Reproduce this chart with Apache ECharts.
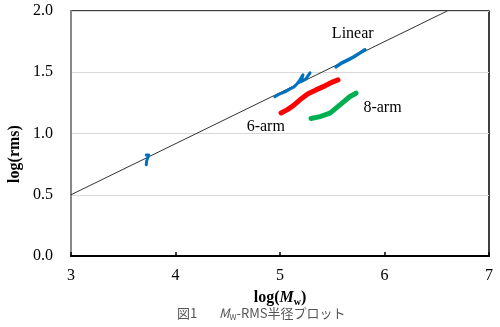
<!DOCTYPE html>
<html>
<head>
<meta charset="utf-8">
<script src="https://cdn.jsdelivr.net/npm/echarts@6/dist/echarts.min.js"></script>
<style>html,body{margin:0;padding:0;background:#fff}#c{width:500px;height:327px}</style>
</head>
<body>
<div id="c"></div>
<script>
// Data (x = log(Mw), y = log(rms))
var xTicks = [3, 4, 5, 6, 7];
var yTicks = [0.0, 0.5, 1.0, 1.5, 2.0];
var refLine = [[3.0, 0.5], [6.6, 2.0]];
var linearA = [[3.72, 0.825], [3.745, 0.825], [3.73, 0.81], [3.725, 0.78], [3.72, 0.745]];
var linearB = [[4.95, 1.30], [5.00, 1.324], [5.048, 1.34], [5.096, 1.364], [5.134, 1.381], [5.163, 1.405], [5.191, 1.438], [5.22, 1.479], [5.201, 1.422], [5.249, 1.446], [5.287, 1.495]];
var linearC = [[5.536, 1.544], [5.593, 1.577], [5.651, 1.601], [5.708, 1.626], [5.766, 1.658], [5.813, 1.683]];
var arm6 = [[5.010, 1.168], [5.067, 1.193], [5.124, 1.225], [5.191, 1.275], [5.268, 1.324], [5.344, 1.356], [5.431, 1.389], [5.507, 1.422], [5.555, 1.438]];
var arm8 = [[5.297, 1.122], [5.383, 1.138], [5.478, 1.166], [5.574, 1.234], [5.670, 1.302], [5.727, 1.329]];
var seriesLabels = [['Linear', 5.696, 1.811], ['6-arm', 4.864, 1.056], ['8-arm', 5.981, 1.207]];

var chart = echarts.init(document.getElementById('c'), null, {renderer: 'canvas'});
var serif = '"Liberation Serif","Times New Roman",serif';
var cjk = '"Noto Sans CJK JP", sans-serif';
function lineSeries(data, color, width, z) {
  return {type: 'line', data: data, showSymbol: false, symbol: 'none', z: z,
    lineStyle: {color: color, width: width, cap: 'round', join: 'round'}, silent: true, animation: false};
}
var option = {
  animation: false,
  grid: {left: 71, right: 11, top: 11, bottom: 71, show: true, borderColor: '#000', borderWidth: 1.5},
  xAxis: {
    type: 'value', min: 3, max: 7, interval: 1,
    axisLine: {show: true, lineStyle: {color: '#000', width: 2}},
    axisTick: {show: true, inside: true, length: 4, lineStyle: {color: '#000', width: 1.5}},
    splitLine: {show: false},
    axisLabel: {color: '#000', fontFamily: serif, fontSize: 16, margin: 12,
      formatter: function (v) { return xTicks.indexOf(v) >= 0 ? String(v) : ''; }},
    name: '{b|log(}{i|M}{s|w}{b|)}', nameLocation: 'middle', nameGap: 33,
    nameTextStyle: {rich: {
      b: {fontFamily: serif, fontWeight: 'bold', fontSize: 16, color: '#000'},
      i: {fontFamily: serif, fontWeight: 'bold', fontStyle: 'italic', fontSize: 16, color: '#000'},
      s: {fontFamily: serif, fontWeight: 'bold', fontSize: 10, color: '#000', verticalAlign: 'bottom', padding: [8, 0, 0, 0]}
    }}
  },
  yAxis: {
    type: 'value', min: 0, max: 2, interval: 0.5,
    axisLine: {show: true, lineStyle: {color: '#888', width: 2}},
    axisTick: {show: false},
    splitLine: {show: true, lineStyle: {color: '#d9d9d9', width: 1}},
    axisLabel: {color: '#000', fontFamily: serif, fontSize: 16, margin: 18,
      formatter: function (v) { return yTicks.indexOf(v) >= 0 ? v.toFixed(1) : ''; }}
  },
  series: [
    lineSeries(refLine, '#333', 1, 1),
    lineSeries(linearA, '#0070C0', 3, 3),
    lineSeries(linearB, '#0070C0', 3, 3),
    lineSeries(linearC, '#0070C0', 3.5, 3),
    lineSeries(arm6, '#FF0000', 5, 3),
    lineSeries(arm8, '#00B050', 5, 3)
  ]
};
chart.setOption(option);
var g = [
  {type: 'text', x: 15, y: 154, rotation: Math.PI / 2,
    style: {text: 'log(rms)', font: 'bold 16px ' + serif, fill: '#000', align: 'center', verticalAlign: 'middle'}},
  {type: 'text', left: 177, top: 307,
    style: {rich: {
      n: {fontFamily: cjk, fontSize: 13, fill: '#555'},
      i: {fontFamily: cjk, fontStyle: 'italic', fontSize: 13, fill: '#555'},
      s: {fontFamily: cjk, fontSize: 8, fill: '#555', padding: [7, 0, 0, 0]}
    }, text: '{n|図1}{n|　   }{i|M}{s|W}{n|-RMS半径プロット}'}}
];
seriesLabels.forEach(function (d) {
  var p = chart.convertToPixel({gridIndex: 0}, [d[1], d[2]]);
  g.push({type: 'text', x: p[0], y: p[1], z: 10,
    style: {text: d[0], font: '16px ' + serif, fill: '#000', align: 'center', verticalAlign: 'middle'}});
});
chart.setOption({graphic: g});
</script>
</body>
</html>
